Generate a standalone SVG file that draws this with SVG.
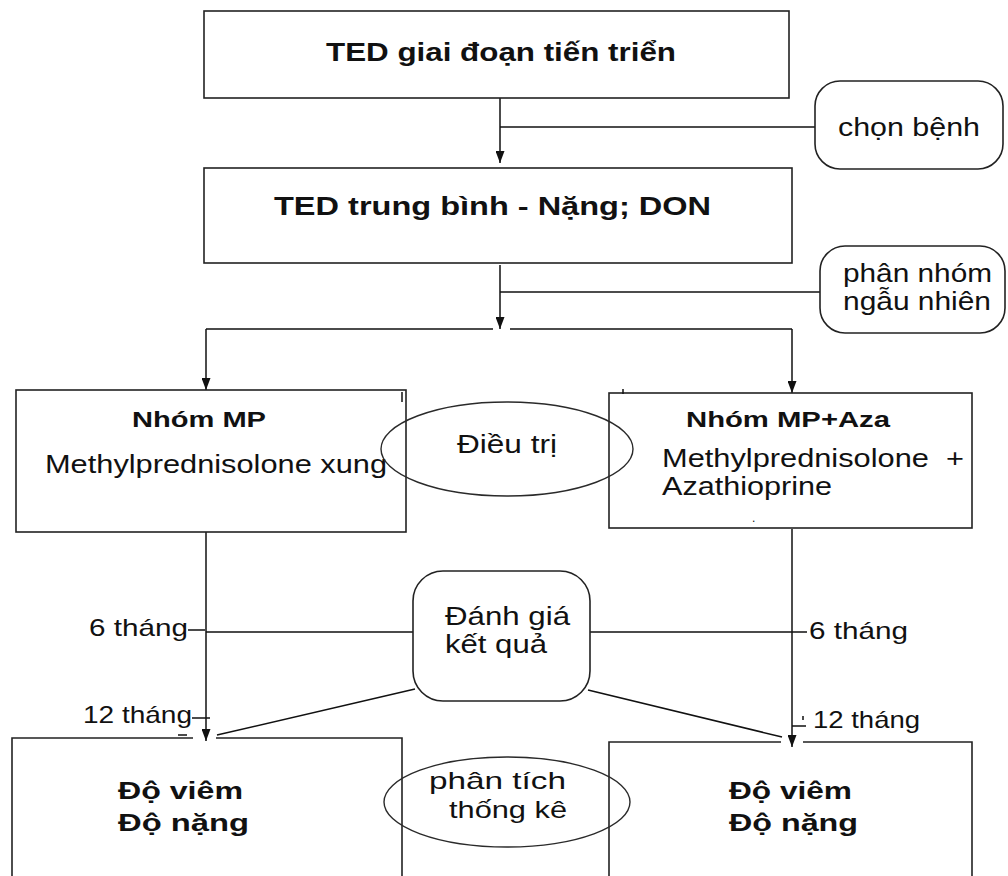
<svg xmlns="http://www.w3.org/2000/svg" width="1008" height="876" viewBox="0 0 1008 876">
  <style>
    .bg { fill: #ffffff; }
    .box { fill: #ffffff; stroke: #222222; stroke-width: 1.6; }
    .open { fill: none; stroke: #222222; stroke-width: 1.6; }
    .oval { fill: none; stroke: #2a2a2a; stroke-width: 1.4; }
    .ln { fill: none; stroke: #111111; stroke-width: 1.5; }
    .arr { marker-end: url(#head); }
    .t { font-family: "Liberation Sans", Arial, sans-serif; fill: #111111; }
    .b { font-weight: bold; }
    .s26 { font-size: 26px; }
    .s25 { font-size: 25px; }
    .s24 { font-size: 24px; }
    .s22 { font-size: 22px; }
  </style>
  <defs>
    <marker id="head" viewBox="0 0 12 9" refX="12" refY="4.5" markerWidth="12" markerHeight="9" orient="auto" markerUnits="userSpaceOnUse">
      <path d="M0,0 L12,4.5 L0,9 z" fill="#111111"/>
    </marker>
  </defs>

  <rect class="bg" x="0" y="0" width="1008" height="876"/>

  <!-- connectors -->
  <g id="connectors">
    <path class="ln arr" d="M500,98 V163"/>
    <path class="ln" d="M500,127 H815"/>
    <path class="ln arr" d="M500,265 V329"/>
    <path class="ln" d="M500,292 H820"/>
    <path class="ln" d="M206,329 H493 M510,329 H792"/>
    <path class="ln arr" d="M206,329 V390"/>
    <path class="ln arr" d="M792,329 V393"/>
    <path class="ln arr" d="M206,532 V741"/>
    <path class="ln arr" d="M792,529 V747"/>
    <path class="ln" d="M206,632 H413 M590,632 H792"/>
    <path class="ln" d="M415,689 L217,735"/>
    <path class="ln" d="M588,690 L782,737"/>
    <!-- time ticks -->
    <path class="ln" d="M188,630 H205 M192,718 H210 M792,632 H807 M792,726 H806 M803,716 V720 M178,735 H187"/>
  </g>

  <g id="n-ted-tien-trien">
    <rect class="box" x="204" y="11" width="585" height="87"/>
    <text class="t b s25" x="326" y="61" textLength="350" lengthAdjust="spacingAndGlyphs">TED giai đoạn tiến triển</text>
  </g>

  <g id="n-chon-benh">
    <rect class="box" x="815" y="81" width="188" height="88" rx="25" ry="25"/>
    <text class="t s25" x="838" y="136" textLength="142" lengthAdjust="spacingAndGlyphs">chọn bệnh</text>
  </g>

  <g id="n-ted-trung-binh">
    <rect class="box" x="204" y="168" width="588" height="95"/>
    <text class="t b s25" x="274" y="215" textLength="437" lengthAdjust="spacingAndGlyphs">TED trung bình - Nặng; DON</text>
  </g>

  <g id="n-phan-nhom">
    <rect class="box" x="820" y="246" width="185" height="87" rx="25" ry="25"/>
    <text class="t s25" x="843" y="282" textLength="149" lengthAdjust="spacingAndGlyphs">phân nhóm</text>
    <text class="t s25" x="843" y="310" textLength="148" lengthAdjust="spacingAndGlyphs">ngẫu nhiên</text>
  </g>

  <g id="n-nhom-mp">
    <rect class="box" x="16" y="390" width="390" height="142"/>
    <path class="ln" d="M402,392 V402"/>
    <text class="t b s22" x="132" y="427" textLength="134" lengthAdjust="spacingAndGlyphs">Nhóm MP</text>
    <text class="t s26" x="45" y="473" textLength="342" lengthAdjust="spacingAndGlyphs">Methylprednisolone xung</text>
  </g>

  <g id="n-nhom-mp-aza">
    <rect class="box" x="609" y="393" width="363" height="135"/>
    <path class="ln" d="M623,389 V394"/>
    <text class="t b s22" x="686" y="427" textLength="204" lengthAdjust="spacingAndGlyphs">Nhóm MP+Aza</text>
    <text class="t s26" x="662" y="467" textLength="302" lengthAdjust="spacingAndGlyphs" xml:space="preserve">Methylprednisolone  +</text>
    <text class="t s26" x="662" y="495" textLength="170" lengthAdjust="spacingAndGlyphs">Azathioprine</text>
    <text class="t" x="752" y="522" font-size="12" fill="#b87333">.</text>
  </g>

  <g id="n-dieu-tri">
    <ellipse class="oval" cx="507" cy="449" rx="126" ry="47"/>
    <text class="t s26" x="457" y="453" textLength="100" lengthAdjust="spacingAndGlyphs">Điều trị</text>
  </g>

  <g id="n-danh-gia">
    <rect class="box" x="413" y="571" width="177" height="130" rx="30" ry="30"/>
    <text class="t s25" x="445" y="625" textLength="125" lengthAdjust="spacingAndGlyphs">Đánh giá</text>
    <text class="t s25" x="445" y="653" textLength="102" lengthAdjust="spacingAndGlyphs">kết quả</text>
  </g>

  <g id="lbl-months">
    <text class="t s24" x="89" y="636" textLength="99" lengthAdjust="spacingAndGlyphs">6 tháng</text>
    <text class="t s24" x="83" y="723" textLength="109" lengthAdjust="spacingAndGlyphs">12 tháng</text>
    <text class="t s24" x="809" y="639" textLength="99" lengthAdjust="spacingAndGlyphs">6 tháng</text>
    <text class="t s24" x="813" y="728" textLength="107" lengthAdjust="spacingAndGlyphs">12 tháng</text>
  </g>

  <g id="n-ket-qua-mp">
    <path class="open" d="M193,738 H12 V880 M216,738 H402 V880"/>
    <text class="t b s24" x="118" y="799" textLength="125" lengthAdjust="spacingAndGlyphs">Độ viêm</text>
    <text class="t b s24" x="118" y="831" textLength="131" lengthAdjust="spacingAndGlyphs">Độ nặng</text>
  </g>

  <g id="n-ket-qua-mp-aza">
    <path class="open" d="M781,742 H609 V880 M803,742 H972 V880"/>
    <text class="t b s24" x="729" y="799" textLength="123" lengthAdjust="spacingAndGlyphs">Độ viêm</text>
    <text class="t b s24" x="729" y="831" textLength="129" lengthAdjust="spacingAndGlyphs">Độ nặng</text>
  </g>

  <g id="n-phan-tich">
    <ellipse class="oval" cx="507" cy="802" rx="123" ry="45"/>
    <text class="t s24" x="429" y="789" textLength="137" lengthAdjust="spacingAndGlyphs">phân tích</text>
    <text class="t s24" x="449" y="818" textLength="118" lengthAdjust="spacingAndGlyphs">thống kê</text>
  </g>
</svg>
